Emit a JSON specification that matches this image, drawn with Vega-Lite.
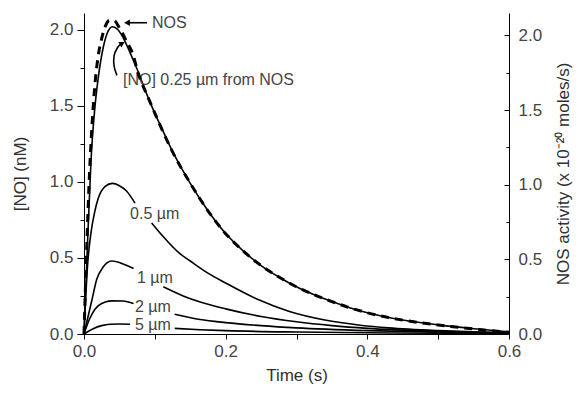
{
  "$schema": "https://vega.github.io/schema/vega-lite/v6.json",
  "width": 425,
  "height": 321,
  "autosize": {"type": "none"},
  "padding": {"left": 84, "top": 13, "right": 70, "bottom": 60},
  "background": "white",
  "config": {
    "view": {"stroke": null},
    "font": "Liberation Sans",
    "axis": {
      "grid": false,
      "domainColor": "black",
      "tickColor": "black",
      "labelColor": "#454545",
      "titleColor": "#303030",
      "labelFont": "Liberation Sans",
      "titleFont": "Liberation Sans",
      "labelFontSize": 17,
      "titleFontSize": 17,
      "titleFontWeight": "normal",
      "labelOverlap": false
    }
  },
  "datasets": {
    "curves": [
      {"t": 0, "v": 0, "seg": "a"},
      {"t": 0.005, "v": 0.6, "seg": "a"},
      {"t": 0.01, "v": 1.15, "seg": "a"},
      {"t": 0.015, "v": 1.47, "seg": "a"},
      {"t": 0.02, "v": 1.68, "seg": "a"},
      {"t": 0.027, "v": 1.88, "seg": "a"},
      {"t": 0.033, "v": 1.98, "seg": "a"},
      {"t": 0.04, "v": 2.02, "seg": "a"},
      {"t": 0.048, "v": 2.0, "seg": "a"},
      {"t": 0.055, "v": 1.95, "seg": "a"},
      {"t": 0.065, "v": 1.85, "seg": "a"},
      {"t": 0.075, "v": 1.74, "seg": "a"},
      {"t": 0.09, "v": 1.56, "seg": "a"},
      {"t": 0.1, "v": 1.45, "seg": "a"},
      {"t": 0.11, "v": 1.35, "seg": "a"},
      {"t": 0.125, "v": 1.2, "seg": "a"},
      {"t": 0.14, "v": 1.07, "seg": "a"},
      {"t": 0.15, "v": 0.99, "seg": "a"},
      {"t": 0.175, "v": 0.81, "seg": "a"},
      {"t": 0.2, "v": 0.66, "seg": "a"},
      {"t": 0.225, "v": 0.545, "seg": "a"},
      {"t": 0.25, "v": 0.45, "seg": "a"},
      {"t": 0.275, "v": 0.375, "seg": "a"},
      {"t": 0.3, "v": 0.31, "seg": "a"},
      {"t": 0.325, "v": 0.258, "seg": "a"},
      {"t": 0.35, "v": 0.213, "seg": "a"},
      {"t": 0.375, "v": 0.173, "seg": "a"},
      {"t": 0.4, "v": 0.14, "seg": "a"},
      {"t": 0.45, "v": 0.092, "seg": "a"},
      {"t": 0.5, "v": 0.06, "seg": "a"},
      {"t": 0.55, "v": 0.035, "seg": "a"},
      {"t": 0.6, "v": 0.015, "seg": "a"},

      {"t": 0, "v": 0, "seg": "b1"},
      {"t": 0.005, "v": 0.45, "seg": "b1"},
      {"t": 0.01, "v": 0.67, "seg": "b1"},
      {"t": 0.015, "v": 0.8, "seg": "b1"},
      {"t": 0.02, "v": 0.89, "seg": "b1"},
      {"t": 0.03, "v": 0.97, "seg": "b1"},
      {"t": 0.04, "v": 0.99, "seg": "b1"},
      {"t": 0.05, "v": 0.975, "seg": "b1"},
      {"t": 0.06, "v": 0.94, "seg": "b1"},
      {"t": 0.072, "v": 0.86, "seg": "b1"},
      {"t": 0.0955, "v": 0.73, "seg": "b2"},
      {"t": 0.11, "v": 0.65, "seg": "b2"},
      {"t": 0.135, "v": 0.53, "seg": "b2"},
      {"t": 0.15, "v": 0.48, "seg": "b2"},
      {"t": 0.175, "v": 0.4, "seg": "b2"},
      {"t": 0.2, "v": 0.335, "seg": "b2"},
      {"t": 0.245, "v": 0.228, "seg": "b2"},
      {"t": 0.29, "v": 0.148, "seg": "b2"},
      {"t": 0.34, "v": 0.092, "seg": "b2"},
      {"t": 0.39, "v": 0.058, "seg": "b2"},
      {"t": 0.43, "v": 0.04, "seg": "b2"},
      {"t": 0.5, "v": 0.022, "seg": "b2"},
      {"t": 0.55, "v": 0.014, "seg": "b2"},
      {"t": 0.6, "v": 0.008, "seg": "b2"},

      {"t": 0, "v": 0, "seg": "c1"},
      {"t": 0.005, "v": 0.1, "seg": "c1"},
      {"t": 0.011, "v": 0.22, "seg": "c1"},
      {"t": 0.018, "v": 0.36, "seg": "c1"},
      {"t": 0.027, "v": 0.44, "seg": "c1"},
      {"t": 0.039, "v": 0.48, "seg": "c1"},
      {"t": 0.05, "v": 0.47, "seg": "c1"},
      {"t": 0.058, "v": 0.455, "seg": "c1"},
      {"t": 0.07, "v": 0.43, "seg": "c1"},
      {"t": 0.112, "v": 0.31, "seg": "c2"},
      {"t": 0.14, "v": 0.25, "seg": "c2"},
      {"t": 0.164, "v": 0.21, "seg": "c2"},
      {"t": 0.2, "v": 0.165, "seg": "c2"},
      {"t": 0.25, "v": 0.115, "seg": "c2"},
      {"t": 0.3, "v": 0.08, "seg": "c2"},
      {"t": 0.35, "v": 0.055, "seg": "c2"},
      {"t": 0.4, "v": 0.037, "seg": "c2"},
      {"t": 0.5, "v": 0.018, "seg": "c2"},
      {"t": 0.6, "v": 0.008, "seg": "c2"},

      {"t": 0, "v": 0, "seg": "d1"},
      {"t": 0.008, "v": 0.1, "seg": "d1"},
      {"t": 0.015, "v": 0.16, "seg": "d1"},
      {"t": 0.02, "v": 0.185, "seg": "d1"},
      {"t": 0.03, "v": 0.21, "seg": "d1"},
      {"t": 0.04, "v": 0.218, "seg": "d1"},
      {"t": 0.055, "v": 0.217, "seg": "d1"},
      {"t": 0.07, "v": 0.2, "seg": "d1"},
      {"t": 0.128, "v": 0.13, "seg": "d2"},
      {"t": 0.164, "v": 0.095, "seg": "d2"},
      {"t": 0.2, "v": 0.075, "seg": "d2"},
      {"t": 0.25, "v": 0.055, "seg": "d2"},
      {"t": 0.3, "v": 0.04, "seg": "d2"},
      {"t": 0.4, "v": 0.022, "seg": "d2"},
      {"t": 0.5, "v": 0.012, "seg": "d2"},
      {"t": 0.6, "v": 0.006, "seg": "d2"},

      {"t": 0, "v": 0, "seg": "e1"},
      {"t": 0.013, "v": 0.035, "seg": "e1"},
      {"t": 0.025, "v": 0.055, "seg": "e1"},
      {"t": 0.037, "v": 0.064, "seg": "e1"},
      {"t": 0.05, "v": 0.066, "seg": "e1"},
      {"t": 0.065, "v": 0.064, "seg": "e1"},
      {"t": 0.128, "v": 0.037, "seg": "e2"},
      {"t": 0.164, "v": 0.028, "seg": "e2"},
      {"t": 0.2, "v": 0.022, "seg": "e2"},
      {"t": 0.3, "v": 0.013, "seg": "e2"},
      {"t": 0.4, "v": 0.008, "seg": "e2"},
      {"t": 0.5, "v": 0.005, "seg": "e2"},
      {"t": 0.6, "v": 0.003, "seg": "e2"}
    ],
    "nos": [
      {"t": 0, "a": 0},
      {"t": 0.004, "a": 0.6},
      {"t": 0.008, "a": 1.1},
      {"t": 0.012, "a": 1.45},
      {"t": 0.016, "a": 1.7},
      {"t": 0.02, "a": 1.86},
      {"t": 0.025, "a": 1.98},
      {"t": 0.03, "a": 2.06},
      {"t": 0.036, "a": 2.1},
      {"t": 0.042, "a": 2.1},
      {"t": 0.05, "a": 2.05},
      {"t": 0.06, "a": 1.96},
      {"t": 0.07, "a": 1.86},
      {"t": 0.075, "a": 1.77},
      {"t": 0.09, "a": 1.59},
      {"t": 0.1, "a": 1.48},
      {"t": 0.11, "a": 1.37},
      {"t": 0.125, "a": 1.22},
      {"t": 0.14, "a": 1.09},
      {"t": 0.15, "a": 1.01},
      {"t": 0.175, "a": 0.825},
      {"t": 0.2, "a": 0.672},
      {"t": 0.225, "a": 0.555},
      {"t": 0.25, "a": 0.458},
      {"t": 0.275, "a": 0.382},
      {"t": 0.3, "a": 0.316},
      {"t": 0.325, "a": 0.263},
      {"t": 0.35, "a": 0.217},
      {"t": 0.375, "a": 0.176},
      {"t": 0.4, "a": 0.142},
      {"t": 0.45, "a": 0.093},
      {"t": 0.5, "a": 0.06},
      {"t": 0.55, "a": 0.034},
      {"t": 0.6, "a": 0.012}
    ],
    "labels": [
      {"t": 0.096, "v": 2.046, "text": "NOS"},
      {"t": 0.055, "v": 1.671, "text": "[NO] 0.25 µm from NOS"},
      {"t": 0.065, "v": 0.789, "text": "0.5 µm"},
      {"t": 0.0748, "v": 0.368, "text": "1 µm"},
      {"t": 0.072, "v": 0.178, "text": "2 µm"},
      {"t": 0.072, "v": 0.059, "text": "5 µm"}
    ],
    "curl": [
      {"o": 1, "t": 0.0465, "v": 1.70},
      {"o": 2, "t": 0.0425, "v": 1.76},
      {"o": 3, "t": 0.0425, "v": 1.83},
      {"o": 4, "t": 0.047, "v": 1.88},
      {"o": 5, "t": 0.052, "v": 1.905}
    ]
  },
  "encoding": {
    "x": {
      "field": "t",
      "type": "quantitative",
      "scale": {"domain": [0, 0.6], "nice": false, "zero": false},
      "axis": {
        "title": "Time (s)",
        "values": [0, 0.1, 0.2, 0.3, 0.4, 0.5, 0.6],
        "labelExpr": "round(datum.value*10)%2==0 ? format(datum.value,'.1f') : ''",
        "tickSize": 5,
        "labelPadding": 4,
        "titlePadding": 8,
        "labelFlush": false
      }
    }
  },
  "layer": [
    {
      "encoding": {
        "y": {
          "field": "v",
          "type": "quantitative",
          "scale": {"domain": [0, 2.11], "nice": false},
          "axis": {
            "title": "[NO] (nM)",
            "orient": "left",
            "values": [0, 0.25, 0.5, 0.75, 1, 1.25, 1.5, 1.75, 2],
            "labelExpr": "datum.value % 0.5 == 0 ? format(datum.value,'.1f') : ''",
            "tickSize": {"condition": {"test": "datum.value % 0.5 != 0", "value": 4}, "value": 7},
            "labelPadding": 4,
            "titlePadding": 20
          }
        }
      },
      "layer": [
        {
          "data": {"name": "curves"},
          "mark": {"type": "line", "color": "black", "strokeWidth": 1.6, "interpolate": "monotone"},
          "encoding": {"detail": {"field": "seg"}}
        },
        {
          "data": {"name": "labels"},
          "mark": {"type": "text", "align": "left", "baseline": "middle", "fontSize": 16, "color": "#454545", "font": "Liberation Sans"},
          "encoding": {"text": {"field": "text"}}
        },
        {
          "data": {"values": [{"t": 0.0625, "t2": 0.089, "v": 2.046}]},
          "mark": {"type": "rule", "color": "black", "strokeWidth": 1.6},
          "encoding": {"x2": {"field": "t2"}}
        },
        {
          "data": {"values": [{"t": 0.0607, "v": 2.046}]},
          "mark": {"type": "point", "shape": "triangle-left", "filled": true, "color": "black", "size": 45, "opacity": 1}
        },
        {
          "data": {"name": "curl"},
          "mark": {"type": "line", "color": "black", "strokeWidth": 1.6, "interpolate": "cardinal"},
          "encoding": {"order": {"field": "o"}}
        },
        {
          "data": {"values": [{"t": 0.054, "v": 1.91}]},
          "mark": {"type": "point", "shape": "triangle-up", "angle": 60, "filled": true, "color": "black", "size": 40, "opacity": 1}
        }
      ]
    },
    {
      "data": {"name": "nos"},
      "mark": {"type": "line", "color": "black", "strokeWidth": 3, "strokeDash": [8, 6], "interpolate": "monotone"},
      "encoding": {
        "y": {
          "field": "a",
          "type": "quantitative",
          "scale": {"domain": [0, 2.15], "nice": false},
          "axis": {
            "title": "NOS activity (x 10⁻²⁰ moles/s)",
            "orient": "right",
            "values": [0, 0.25, 0.5, 0.75, 1, 1.25, 1.5, 1.75, 2],
            "labelExpr": "datum.value % 0.5 == 0 ? format(datum.value,'.1f') : ''",
            "tickSize": {"condition": {"test": "datum.value % 0.5 != 0", "value": -3}, "value": -5},
            "labelPadding": 14,
            "titleAngle": 270,
            "titleBaseline": "top",
            "titlePadding": 14
          }
        }
      }
    }
  ],
  "resolve": {"scale": {"y": "independent"}}
}
